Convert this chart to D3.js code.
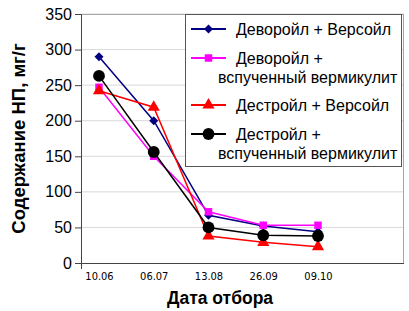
<!DOCTYPE html>
<html>
<head>
<meta charset="utf-8">
<script src="https://cdn.jsdelivr.net/npm/d3@7/dist/d3.min.js"></script>
<style>
  body { margin: 0; background: #fff; }
  text { font-family: "Liberation Sans", Arial, sans-serif; }
</style>
</head>
<body>
<div id="chart"></div>
<script>
const dates = ['10.06', '06.07', '13.08', '26.09', '09.10'];
const yTicks = [0, 50, 100, 150, 200, 250, 300, 350];

const devoroilVersoil = [290, 200, 67, 52, 44];
const devoroilVermiculite = [247, 150, 72, 53, 53];
const destroilVersoil = [242, 219, 38, 29, 23];
const destroilVermiculite = [263, 156, 50, 39, 38];

const seriesNames = [
    ['Деворойл + Версойл'],
    ['Деворойл +', 'вспученный вермикулит'],
    ['Дестройл + Версойл'],
    ['Дестройл +', 'вспученный вермикулит']
];

const width = 409, height = 311;
const margin = { top: 14, right: 5, bottom: 48, left: 81 };

const svg = d3.select('#chart')
    .append('svg')
    .attr('width', width)
    .attr('height', height);

const x = d3.scalePoint()
    .domain(dates)
    .range([99, 318]);

const y = d3.scaleLinear()
    .domain([0, 350])
    .range([height - margin.bottom, margin.top]);

// grid
svg.append('g')
    .selectAll('line')
    .data(yTicks.filter(d => d > 0))
    .enter().append('line')
    .attr('x1', margin.left)
    .attr('x2', width - margin.right)
    .attr('y1', d => y(d))
    .attr('y2', d => y(d))
    .attr('stroke', '#d9d9d9')
    .attr('stroke-width', 1);

// plot border
svg.append('rect')
    .attr('x', margin.left + 0.5)
    .attr('y', margin.top + 0.5)
    .attr('width', width - margin.right - margin.left - 1)
    .attr('height', height - margin.bottom - margin.top)
    .attr('fill', 'none')
    .attr('stroke', '#a6a6a6');

// y axis
const yAxis = svg.append('g')
    .attr('transform', `translate(${margin.left},0)`)
    .call(d3.axisLeft(y).tickValues(yTicks).tickSize(6).tickPadding(3));
yAxis.select('.domain').attr('stroke', '#444');
yAxis.selectAll('.tick line').attr('stroke', '#444');
yAxis.selectAll('text')
    .style('font-size', '16px')
    .style('font-family', '"Liberation Sans", Arial, sans-serif')
    .attr('fill', '#000');

// x axis
const xAxis = svg.append('g')
    .attr('transform', `translate(0,${height - margin.bottom})`)
    .call(d3.axisBottom(x).tickSize(0).tickPadding(9));
xAxis.select('.domain').remove();
xAxis.selectAll('text')
    .style('font-size', '11px')
    .style('font-family', '"Liberation Sans Narrow", "DejaVu Sans Condensed", Arial, sans-serif')
    .attr('fill', '#000');
svg.append('line')
    .attr('x1', margin.left - 0.5).attr('x2', width - margin.right)
    .attr('y1', y(0) + 0.5).attr('y2', y(0) + 0.5)
    .attr('stroke', '#444');
svg.append('line')
    .attr('x1', margin.left + 0.5).attr('x2', margin.left + 0.5)
    .attr('y1', y(0)).attr('y2', y(0) + 6)
    .attr('stroke', '#444');

// titles
svg.append('text')
    .attr('transform', `translate(19,${(margin.top + y(0)) / 2}) rotate(-90)`)
    .attr('text-anchor', 'middle')
    .attr('dy', '0.35em')
    .style('font-size', '18.5px')
    .style('font-weight', 'bold')
    .text('Содержание НП, мг/г');

svg.append('text')
    .attr('x', 220)
    .attr('y', 304)
    .attr('text-anchor', 'middle')
    .style('font-size', '17.5px')
    .style('font-weight', 'bold')
    .text('Дата отбора');

const line = d3.line()
    .x((_, i) => x(dates[i]))
    .y(d => y(d));

const symbols = {
    diamond: d3.symbol().type(d3.symbolSquare).size(40),
    square: d3.symbol().type(d3.symbolSquare).size(56),
    triangle: d3.symbol().type(d3.symbolTriangle).size(64),
    circle: d3.symbol().type(d3.symbolCircle).size(110)
};

const series = [
    { data: devoroilVersoil, color: '#000080', shape: 'diamond', rot: 45 },
    { data: devoroilVermiculite, color: '#ff00ff', shape: 'square', rot: 0 },
    { data: destroilVersoil, color: '#ff0000', shape: 'triangle', rot: 0 },
    { data: destroilVermiculite, color: '#000000', shape: 'circle', rot: 0 }
];

const drawSeries = (s) => {
    svg.append('path')
        .datum(s.data)
        .attr('fill', 'none')
        .attr('stroke', s.color)
        .attr('stroke-width', 1.5)
        .attr('d', line);

    svg.selectAll(null)
        .data(s.data)
        .enter().append('path')
        .attr('transform', (d, i) => `translate(${x(dates[i])},${y(d)}) rotate(${s.rot})`)
        .attr('d', symbols[s.shape])
        .attr('fill', s.color);
};

series.forEach(drawSeries);

// legend
const legend = svg.append('g');
legend.append('rect')
    .attr('x', 185.5)
    .attr('y', 14.5)
    .attr('width', 216)
    .attr('height', 152)
    .attr('fill', '#fff')
    .attr('stroke', '#555');

const legendY = [29, 58, 105, 134];
series.forEach((s, i) => {
    const ly = legendY[i];
    legend.append('line')
        .attr('x1', 191).attr('x2', 226)
        .attr('y1', ly).attr('y2', ly)
        .attr('stroke', s.color)
        .attr('stroke-width', 2);
    legend.append('path')
        .attr('transform', `translate(208.5,${ly}) rotate(${s.rot})`)
        .attr('d', symbols[s.shape])
        .attr('fill', s.color);
    const lines = seriesNames[i];
    lines.forEach((t, j) => {
        legend.append('text')
            .attr('x', j === 0 ? 236 : 218)
            .attr('y', ly + j * 19)
            .attr('dy', '0.35em')
            .style('font-size', '16px')
            .text(t);
    });
});
</script>
</body>
</html>
